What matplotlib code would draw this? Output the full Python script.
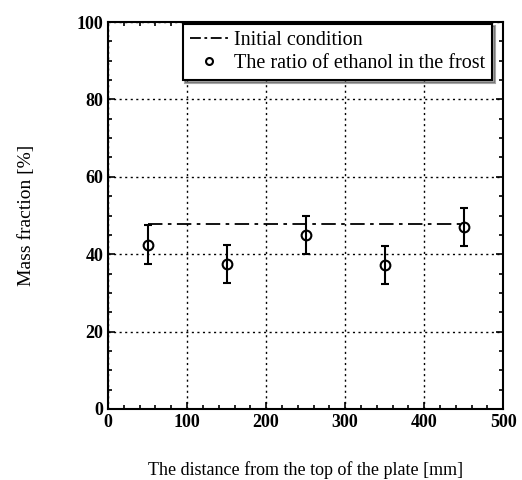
import matplotlib.pyplot as plt
from matplotlib.lines import Line2D
from matplotlib.ticker import MultipleLocator

# data
dist = [50, 150, 250, 350, 450]
ratio = [42.5, 37.5, 45.0, 37.2, 47.0]
err = [5.0, 5.0, 5.0, 5.0, 5.0]
init_x = [50, 450]
init_y = [47.8, 47.8]

plt.rcParams['font.family'] = ['Liberation Serif', 'DejaVu Serif']
plt.rcParams['font.size'] = 12

fig, ax = plt.subplots(figsize=(5.22, 4.8), dpi=100)
fig.subplots_adjust(left=0.207, right=0.964, bottom=0.148, top=0.954)

dashdot = (0, (8, 3, 2, 3))
ax.plot(init_x, init_y, color='black', linestyle=dashdot, lw=1.3)
ax.errorbar(dist, ratio, yerr=err, fmt='o', mfc='none', mec='black', ms=7,
            mew=1.5, ecolor='black', elinewidth=1.5, capsize=3, capthick=1.3)

ax.set_xlim(0, 500)
ax.set_ylim(0, 100)
ax.xaxis.set_major_locator(MultipleLocator(100))
ax.xaxis.set_minor_locator(MultipleLocator(20))
ax.yaxis.set_major_locator(MultipleLocator(20))
ax.yaxis.set_minor_locator(MultipleLocator(5))
ax.tick_params(which='both', direction='in', top=True, right=True, width=1.2)
ax.tick_params(which='major', length=5, labelsize=13)
ax.tick_params(which='minor', length=3)
for lab in ax.get_xticklabels() + ax.get_yticklabels():
    lab.set_fontweight('bold')
for s in ax.spines.values():
    s.set_linewidth(1.5)
ax.grid(True, which='major', color='black', linestyle=(0, (1.5, 2.5)), lw=1)

ax.set_xlabel('The distance from the top of the plate [mm]', fontsize=13, labelpad=22)
ax.set_ylabel('Mass fraction [%]', fontsize=14, labelpad=30)

handles = [Line2D([], [], color='black', linestyle=(0, (6, 2, 1.5, 2)), lw=1.3),
           Line2D([], [], color='black', linestyle='none', marker='o',
                  mfc='none', ms=5, mew=1.5)]
labels = ['Initial condition', 'The ratio of ethanol in the frost']
leg = ax.legend(handles, labels, loc='upper right', bbox_to_anchor=(0.972, 0.996),
                fontsize=14.5, fancybox=False, shadow=True, framealpha=1,
                edgecolor='black', handlelength=1.9, handletextpad=0.3,
                borderaxespad=0.0, borderpad=0.35, labelspacing=0.2)
leg.get_frame().set_linewidth(1.5)

fig.savefig('out.png', dpi=100)
